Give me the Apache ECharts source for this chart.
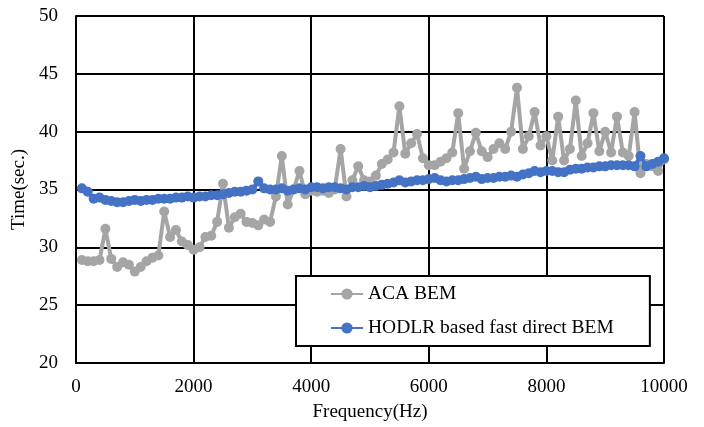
<!DOCTYPE html>
<html>
<head>
<meta charset="utf-8">
<script src="https://cdn.jsdelivr.net/npm/echarts@6/dist/echarts.min.js"></script>
<style>
  html, body { margin: 0; padding: 0; background: #fff; }
  #chart { width: 704px; height: 427px; }
</style>
</head>
<body>
<div id="chart"></div>
<script>
// Frequency samples (Hz)
const frequency = [
  100, 200, 300, 400, 500, 600, 700, 800, 900, 1000,
  1100, 1200, 1300, 1400, 1500, 1600, 1700, 1800, 1900, 2000,
  2100, 2200, 2300, 2400, 2500, 2600, 2700, 2800, 2900, 3000,
  3100, 3200, 3300, 3400, 3500, 3600, 3700, 3800, 3900, 4000,
  4100, 4200, 4300, 4400, 4500, 4600, 4700, 4800, 4900, 5000,
  5100, 5200, 5300, 5400, 5500, 5600, 5700, 5800, 5900, 6000,
  6100, 6200, 6300, 6400, 6500, 6600, 6700, 6800, 6900, 7000,
  7100, 7200, 7300, 7400, 7500, 7600, 7700, 7800, 7900, 8000,
  8100, 8200, 8300, 8400, 8500, 8600, 8700, 8800, 8900, 9000,
  9100, 9200, 9300, 9400, 9500, 9600, 9700, 9800, 9900, 10000
];

// Solve time (sec.) with the ACA-accelerated BEM
const acaBem = [
  28.9, 28.8, 28.8, 28.9, 31.6, 29.0, 28.3, 28.7, 28.5, 27.9,
  28.3, 28.8, 29.1, 29.3, 33.1, 30.9, 31.5, 30.5, 30.2, 29.8,
  30.0, 30.9, 31.0, 32.2, 35.5, 31.7, 32.6, 32.9, 32.2, 32.1,
  31.9, 32.4, 32.2, 34.4, 37.9, 33.7, 35.0, 36.6, 34.6, 34.9,
  34.8, 34.9, 34.7, 35.0, 38.5, 34.4, 35.8, 37.0, 35.8, 35.7,
  36.2, 37.2, 37.6, 38.2, 42.2, 38.1, 39.0, 39.8, 37.7, 37.1,
  37.1, 37.4, 37.7, 38.2, 41.6, 36.8, 38.3, 39.9, 38.3, 37.8,
  38.5, 39.0, 38.5, 40.0, 43.8, 38.5, 39.6, 41.7, 38.8, 39.6,
  37.5, 41.3, 37.5, 38.5, 42.7, 37.9, 39.0, 41.6, 38.3, 40.0,
  38.2, 41.3, 38.2, 37.9, 41.7, 36.4, 37.2, 37.0, 36.6, 37.6
];

// Solve time (sec.) with the HODLR-based fast direct BEM
const hodlrBem = [
  35.1, 34.8, 34.2, 34.3, 34.1, 34.0, 33.9, 33.9, 34.0, 34.1,
  34.0, 34.1, 34.1, 34.2, 34.2, 34.2, 34.3, 34.3, 34.4, 34.3,
  34.4, 34.4, 34.5, 34.5, 34.6, 34.7, 34.8, 34.8, 34.9, 35.0,
  35.7, 35.1, 35.0, 35.0, 35.1, 34.9, 35.0, 35.1, 35.0, 35.2,
  35.2, 35.1, 35.2, 35.2, 35.1, 35.0, 35.2, 35.2, 35.3, 35.2,
  35.3, 35.4, 35.5, 35.6, 35.8, 35.6, 35.7, 35.8, 35.8, 35.9,
  36.0, 35.8, 35.7, 35.8, 35.8, 35.9, 36.0, 36.1, 35.9, 36.0,
  36.0, 36.1, 36.1, 36.2, 36.1, 36.3, 36.4, 36.6, 36.5, 36.6,
  36.6, 36.5, 36.5, 36.7, 36.8, 36.8, 36.9, 36.9, 37.0, 37.0,
  37.1, 37.1, 37.1, 37.1, 37.0, 37.9, 37.0, 37.2, 37.4, 37.7
];

const seriesNames = ['ACA BEM', 'HODLR based fast direct BEM'];
const xTicks = { min: 0, max: 10000, step: 2000 };
const yTicks = { min: 20, max: 50, step: 5 };

const FONT = '"Liberation Serif", "Times New Roman", serif';
const pairs = (ys) => frequency.map((f, i) => [f, ys[i]]);
const plain = (v) => String(v);

const chart = echarts.init(document.getElementById('chart'), null, { renderer: 'canvas' });

chart.setOption({
  animation: false,
  backgroundColor: '#ffffff',
  textStyle: { fontFamily: FONT, color: '#000' },
  grid: { left: 76, right: 40, top: 16, bottom: 64, containLabel: false },
  xAxis: {
    type: 'value',
    min: xTicks.min, max: xTicks.max, interval: xTicks.step,
    name: 'Frequency(Hz)',
    nameLocation: 'middle',
    nameGap: 40,
    nameTextStyle: { fontFamily: FONT, fontSize: 19, color: '#000' },
    axisLine: { show: true, lineStyle: { color: '#000', width: 2 } },
    axisTick: { show: false },
    axisLabel: { fontFamily: FONT, fontSize: 19, color: '#000', margin: 15, formatter: plain },
    splitLine: { show: true, lineStyle: { color: '#000', width: 2 } }
  },
  yAxis: {
    type: 'value',
    min: yTicks.min, max: yTicks.max, interval: yTicks.step,
    name: 'Time(sec.)',
    nameLocation: 'middle',
    nameGap: 44,
    nameTextStyle: { fontFamily: FONT, fontSize: 19, color: '#000' },
    axisLine: { show: true, lineStyle: { color: '#000', width: 2 } },
    axisTick: { show: false },
    axisLabel: { fontFamily: FONT, fontSize: 19, color: '#000', margin: 18, formatter: plain },
    splitLine: { show: true, lineStyle: { color: '#000', width: 2 } }
  },
  legend: {
    orient: 'vertical',
    left: 296,
    top: 276,
    padding: [8, 36, 8, 34],
    itemGap: 14,
    itemWidth: 32,
    itemHeight: 14,
    backgroundColor: '#ffffff',
    borderColor: '#000',
    borderWidth: 2,
    borderRadius: 0,
    textStyle: { fontFamily: FONT, fontSize: 19.5, color: '#000' },
    data: seriesNames
  },
  series: [
    {
      name: seriesNames[0],
      type: 'line',
      data: pairs(acaBem),
      symbol: 'circle',
      symbolSize: 10,
      color: '#A5A5A5',
      lineStyle: { color: '#A5A5A5', width: 4 },
      itemStyle: { color: '#A5A5A5' },
      z: 2
    },
    {
      name: seriesNames[1],
      type: 'line',
      data: pairs(hodlrBem),
      symbol: 'circle',
      symbolSize: 10,
      color: '#4472C4',
      lineStyle: { color: '#4472C4', width: 4 },
      itemStyle: { color: '#4472C4' },
      z: 3
    }
  ]
});
</script>
</body>
</html>
